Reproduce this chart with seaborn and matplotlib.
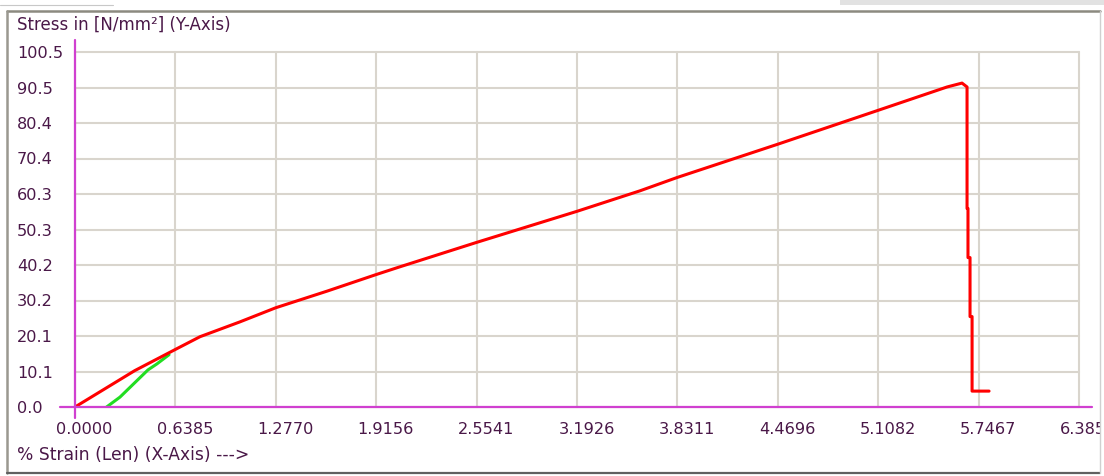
import matplotlib
matplotlib.use("Agg")
import matplotlib.pyplot as plt
import matplotlib.transforms as mtransforms
from matplotlib.patches import Rectangle
from matplotlib.lines import Line2D
import numpy as np
import pandas as pd
import seaborn as sns

# valores (strain %, stress N/mm2)
red_strain = [0.0000, 0.3800, 0.6385, 0.7950, 1.0490, 1.2770,
              1.6030, 1.9156, 2.0670, 2.5541, 3.1926, 3.5930, 3.8311, 4.4696, 5.1082,
              5.5460, 5.6410, 5.6730, 5.6730, 5.6790, 5.6790, 5.6920, 5.6920, 5.7050,
              5.7050, 5.8130]
red_stress = [0.0, 10.3, 16.3, 19.9, 24.1, 28.1,
              32.8, 37.5, 39.7, 46.6, 55.4, 61.2, 65.0, 74.4, 84.0,
              90.6, 91.7, 90.6, 56.2, 56.2, 42.3, 42.3, 25.6, 25.6,
              4.5, 4.5]

green_strain = [0.201, 0.286, 0.464, 0.521, 0.598]
green_stress = [0.0, 2.8, 10.5, 12.2, 14.8]

x_ticks = [0.0, 0.6385, 1.2770, 1.9156, 2.5541, 3.1926, 3.8311, 4.4696, 5.1082, 5.7467, 6.3850]
x_labels = ["0.0000", "0.6385", "1.2770", "1.9156", "2.5541", "3.1926", "3.8311",
            "4.4696", "5.1082", "5.7467", "6.3850"]
y_ticks = [0.0, 10.05, 20.1, 30.15, 40.2, 50.25, 60.3, 70.35, 80.4, 90.45, 100.5]
y_labels = ["0.0", "10.1", "20.1", "30.2", "40.2", "50.3", "60.3", "70.4", "80.4", "90.5", "100.5"]

TXT = "#4a1848"
MAGENTA = "#d040d0"
GRID = "#d9d5cd"

sns.set_style("white")
plt.rcParams['font.family'] = ['DejaVu Sans']

W, H = 1104, 476
fig = plt.figure(figsize=(W / 100, H / 100), dpi=100)
fig.patch.set_facecolor("white")
ax = fig.add_axes([75 / W, 1 - 407 / H, 1004 / W, 355 / H])

df_red = pd.DataFrame({"strain": red_strain, "stress": red_stress})
df_green = pd.DataFrame({"strain": green_strain, "stress": green_stress})

sns.lineplot(data=df_green, x="strain", y="stress", sort=False, estimator=None,
             color="#22dd22", linewidth=2.2, ax=ax, zorder=4)
sns.lineplot(data=df_red, x="strain", y="stress", sort=False, estimator=None,
             color="#ff0000", linewidth=2.2, ax=ax, zorder=5)

ax.set_xlim(0, 6.385)
ax.set_ylim(0, 100.5)
ax.set_xticks(x_ticks)
ax.set_xticklabels(x_labels)
ax.set_yticks(y_ticks)
ax.set_yticklabels(y_labels)
ax.set_xlabel("")
ax.set_ylabel("")

for s in ax.spines.values():
    s.set_visible(False)

ax.grid(True, color=GRID, linewidth=1.5)
for gl in ax.get_xgridlines() + ax.get_ygridlines():
    gl.set_clip_on(False)
ax.set_axisbelow(True)

ax.tick_params(axis="both", length=0, labelsize=11.6, labelcolor=TXT)
ax.tick_params(axis="y", pad=41.8)
ax.tick_params(axis="x", pad=10.5)
plt.setp(ax.get_yticklabels(), ha="left")
shift = mtransforms.ScaledTranslation(9.5 / 100, 0, fig.dpi_scale_trans)
for lab in ax.get_xticklabels():
    lab.set_transform(lab.get_transform() + shift)

# ejes magenta
ax.axhline(0, xmin=-0.015, xmax=1.013, color=MAGENTA, linewidth=1.6, clip_on=False, zorder=6)
ax.axvline(0, ymin=-0.031, ymax=1.034, color=MAGENTA, linewidth=1.6, clip_on=False, zorder=6)

fig.text(17 / W, 1 - 25 / H, "Stress in [N/mm²] (Y-Axis)", ha="left", va="center",
         fontsize=12, color=TXT)
fig.text(17 / W, 1 - 455 / H, "% Strain (Len) (X-Axis) --->", ha="left", va="center",
         fontsize=12.3, color=TXT)

# marco
fig.add_artist(Rectangle((1101 / W, 0), 3 / W, 1, transform=fig.transFigure,
                         facecolor="white", edgecolor="none", zorder=10))
fig.add_artist(Rectangle((840 / W, 1 - 5 / H), 264 / W, 5 / H, transform=fig.transFigure,
                         facecolor="#e2e2e2", edgecolor="none", zorder=10))
fig.add_artist(Line2D([7 / W, 1100 / W], [1 - 11 / H, 1 - 11 / H], transform=fig.transFigure,
                      color="#8c8a80", linewidth=1.8, zorder=11))
fig.add_artist(Line2D([7 / W, 7 / W], [1 - 11 / H, 1 - 473 / H], transform=fig.transFigure,
                      color="#9a9890", linewidth=1.8, zorder=11))
fig.add_artist(Line2D([7 / W, 1100 / W], [1 - 473 / H, 1 - 473 / H], transform=fig.transFigure,
                      color="#606060", linewidth=1.6, zorder=11))
fig.add_artist(Line2D([1100 / W, 1100 / W], [1 - 11 / H, 1 - 473 / H], transform=fig.transFigure,
                      color="#d0d0d0", linewidth=1.0, zorder=11))
fig.add_artist(Line2D([0, 113 / W], [1 - 5 / H, 1 - 5 / H], transform=fig.transFigure,
                      color="#c8c8c8", linewidth=0.8, zorder=11))

fig.savefig("out.png", dpi=100, facecolor="white")
